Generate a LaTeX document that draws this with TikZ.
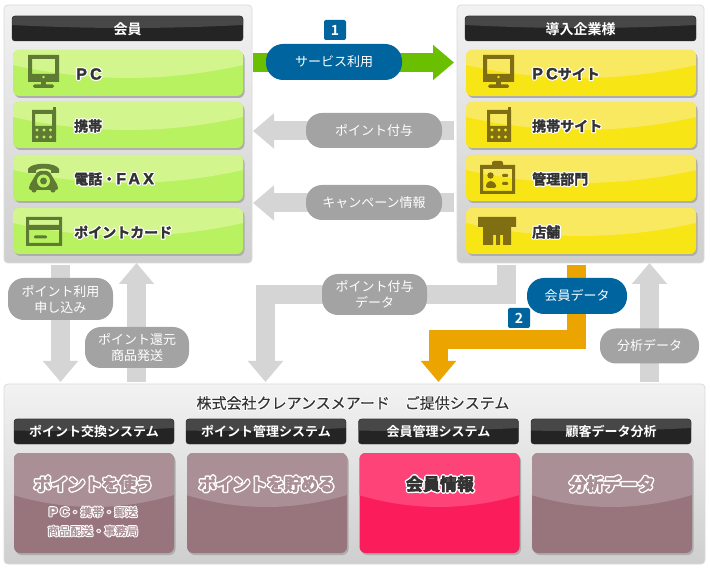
\documentclass[tikz,border=0pt]{standalone}
\usepackage{fontspec}
\usetikzlibrary{arrows.meta,shadows}
\setmainfont{Noto Sans CJK JP}[BoldFont={Noto Sans CJK JP Bold}]
\newfontfamily\wideface{Liberation Sans Bold}[Scale=1.15,LetterSpace=20]
\definecolor{greenbase}{HTML}{B9F261}
\definecolor{greengloss}{HTML}{D2F58E}
\definecolor{yellowbase}{HTML}{F8E516}
\definecolor{yellowgloss}{HTML}{F9E960}
\definecolor{mauvebase}{HTML}{98747D}
\definecolor{mauvegloss}{HTML}{AB8F96}
\definecolor{pinkbase}{HTML}{FB1C5C}
\definecolor{pinkgloss}{HTML}{FD4377}
\definecolor{greenicon}{HTML}{5F7A33}
\definecolor{yellowicon}{HTML}{7F6F12}
\definecolor{arrowgreen}{HTML}{6ABF00}
\definecolor{arroworange}{HTML}{ECA400}
\definecolor{arrowgrey}{HTML}{D5D5D5}
\definecolor{pillgrey}{HTML}{A3A3A3}
\definecolor{pillblue}{HTML}{00649F}
\definecolor{inkdark}{HTML}{333333}
\newcommand\halox[4]{\leavevmode\rlap{\special{pdf:code 2 Tr 1 j #1 w 1 1 1 RG}\textcolor{white}{#4}\special{pdf:code 0 Tr 0 j 1 w 0 0 0 RG}}\special{pdf:code 2 Tr 1 j #2 w #3 RG}#4\special{pdf:code 0 Tr 0 j 1 w 0 0 0 RG}}
\newcommand\rowhalo[1]{\halox{2.8}{0.3}{.2 .2 .2}{#1}}
\newcommand\cardhalo[1]{\halox{3.6}{0.7}{.67 .56 .59}{#1}}
\newcommand\infohalo[1]{\halox{3.6}{0.7}{.2 .2 .2}{#1}}
\newcommand\subhalo[1]{\halox{2.4}{0.2}{.67 .56 .59}{#1}}
\newcommand\titlehalo[1]{\halox{2}{0.05}{.2 .2 .2}{#1}}
\tikzset{
  glossy/.style n args={4}{path picture={
    \fill[#4,sharp corners] (path picture bounding box.north west) -- (path picture bounding box.north east)
      -- ++(0,#2) .. controls +(-#1/3,#3*1.33) and +(#1/3,#3*1.33) .. ++(-#1,0) -- cycle;}},
  panelbox/.style={draw=black!14,rounded corners=4pt,inner sep=0,top color=black!5,bottom color=black!19,line width=.8pt},
  headbox/.style={draw=black!85,line width=.4pt,rounded corners=3pt,inner sep=0,fill=black!86,minimum height=25pt,
    text=white,font=\bfseries\fontsize{#1}{#1}\selectfont,glossy={231}{9}{3}{black!72}},
  rowbase/.style={rounded corners=6pt,inner sep=0,minimum height=46pt,minimum width=230pt,
    drop shadow={shadow xshift=1.5pt,shadow yshift=-2pt,opacity=1,fill=black!32}},
  rowgreen/.style={rowbase,fill=greenbase,glossy={230}{15}{13}{greengloss}},
  rowyellow/.style={rowbase,fill=yellowbase,glossy={230}{15}{13}{yellowgloss}},
  cardbase/.style={rounded corners=6pt,inner sep=0,minimum height=100pt,minimum width=160pt,
    drop shadow={shadow xshift=1.5pt,shadow yshift=-2pt,opacity=1,fill=black!32}},
  cardmauve/.style={cardbase,fill=mauvebase,glossy={161}{42}{12}{mauvegloss}},
  cardpink/.style={cardbase,fill=pinkbase,glossy={161}{42}{12}{pinkgloss}},
  rowlabel/.style={anchor=west,inner sep=0,text=inkdark,font=\bfseries\fontsize{14}{14}\selectfont},
  cardlabel/.style={inner sep=0,text=mauvegloss,font=\bfseries\fontsize{17}{17}\selectfont},
  cardsub/.style={inner sep=0,text=mauvegloss,align=center,font=\fontsize{11.3}{19}\selectfont},
  pillgreyst/.style={fill=pillgrey,rounded corners=16pt,inner sep=0,text=white,align=center,font=\fontsize{13}{16}\selectfont},
  pillbluest/.style={fill=pillblue,rounded corners=17pt,inner sep=0,text=white,align=center,font=\fontsize{13}{16}\selectfont},
  oneline/.style={text height=11pt,text depth=1pt},
  badge/.style={fill=pillblue,rounded corners=2pt,inner sep=0,minimum width=22pt,minimum height=20pt,text=white,font=\bfseries\fontsize{14}{14}\selectfont},
  blockgrey/.style={draw=arrowgrey,line width=19pt,-{Triangle[length=21pt,width=34pt]}},
  blockgreen/.style={draw=arrowgreen,line width=19pt,-{Triangle[length=21pt,width=34pt]}},
  blockorange/.style={draw=arroworange,line width=19pt,-{Triangle[length=21pt,width=34pt]}},
  pics/monitoricon/.style={code={
    \fill[#1,even odd rule] (0,0) rectangle (31,27) (4,4) rectangle (27,19) (15.5,22) circle (1.7);
    \fill[#1] (13,27) rectangle (18,30);
    \fill[#1,rounded corners=1.5pt] (5,29.5) rectangle (26,33);}},
  pics/phoneicon/.style={code={
    \fill[#1,even odd rule] (0,3) rectangle (24,35) (3,7) rectangle (20,19)
      (5,23) circle (1.8) (12,23) circle (1.8) (18.5,23) circle (1.8)
      (5,30) circle (1.8) (12,30) circle (1.8) (18.5,30) circle (1.8);
    \fill[#1] (21,0) rectangle (24,4);}},
  pics/telicon/.style={code={
    \fill[#1] (0,10) -- (0,6) .. controls (3,-1) and (28,-1) .. (31,6) -- (31,10) -- (23,10) -- (23,7) .. controls (18,5) and (13,5) .. (8,7) -- (8,10) -- cycle;
    \fill[#1,rounded corners=2pt] (10,8) -- (21,8) -- (30,23) -- (30,27) -- (1,27) -- (1,23) -- cycle;
    \fill[#1] (6,27) circle (2.6) (25,27) circle (2.6);
    \fill[greenbase,even odd rule] (15.5,18) circle (6.5) (15.5,18) circle (3.6);}},
  pics/cardicon/.style={code={
    \fill[#1,even odd rule] (0,0) rectangle (36,29) (3,3) rectangle (33,8) (3,13) rectangle (33,26);
    \fill[#1,rounded corners=1.2pt] (8,18.5) rectangle (21,21.5);}},
  pics/badgeicon/.style={code={
    \fill[#1,even odd rule] (0,4) rectangle (35,33) (3,8) rectangle (32,30);
    \fill[#1,rounded corners=2pt] (12,0) rectangle (23,8);
    \fill[#1] (10.5,14.5) circle (3.2);
    \fill[#1,rounded corners=1.5pt] (6,27) -- (6,23) -- (9,20) -- (12,20) -- (16,23) -- (16,27) -- cycle;
    \fill[#1,rounded corners=1pt] (22,13) rectangle (28,16) (22,21) rectangle (28,24);}},
  pics/shopicon/.style={code={
    \fill[#1] (0,0) -- (38,0) -- (38,10) -- (33,10) -- (33,28) -- (25,28) -- (25,18) -- (22,18) -- (22,28) -- (18,28) -- (18,18) -- (15,18) -- (15,28) -- (5,28) -- (5,10) -- (0,10) -- cycle;}}
}
\begin{document}
\begin{tikzpicture}[x=1pt,y=-1pt]
\useasboundingbox (0,0) rectangle (710,569);
\fill[white] (0,0) rectangle (710,569);
% panels
\node[panelbox,minimum width=248pt,minimum height=258pt] (member) at (128,134) {};
\node[panelbox,minimum width=247pt,minimum height=258pt] (client) at (580.5,134) {};
\node[panelbox,minimum width=701pt,minimum height=180pt] (system) at (354.5,474) {};
% headers
\node[headbox=14,minimum width=231pt,text height=12.6pt,text depth=1pt] (memberhead) at (127.5,28.5) {会員};
\node[headbox=14,minimum width=231pt,text height=12.6pt,text depth=1pt] (clienthead) at (580.5,28.5) {導入企業様};
% left rows
\node[rowgreen] (rowpc) at (128,73) {};
\node[rowgreen] (rowtel) at (128,125) {};
\node[rowgreen] (rowfax) at (128,178) {};
\node[rowgreen] (rowcard) at (128,231) {};
\node[rowlabel] (lblpc) at (76,74) {\rowhalo{\wideface PC}};
\node[rowlabel] (lbltel) at (74,126) {\rowhalo{携帯}};
\node[rowlabel] (lblfax) at (74,179) {\rowhalo{電話・{\wideface FAX}}};
\node[rowlabel] (lblcard) at (74,232) {\rowhalo{ポイントカード}};
\pic at (28,55) {monitoricon=greenicon};
\pic at (32,107) {phoneicon=greenicon};
\pic at (28,163) {telicon=greenicon};
\pic at (26,217) {cardicon=greenicon};
% right rows
\node[rowyellow] (rowsite) at (581,73) {};
\node[rowyellow] (rowmob) at (581,125) {};
\node[rowyellow] (rowadmin) at (581,178) {};
\node[rowyellow] (rowshop) at (581,231) {};
\node[rowlabel] (lblsite) at (532,74) {\rowhalo{{\wideface PC}サイト}};
\node[rowlabel] (lblmob) at (532,126) {\rowhalo{携帯サイト}};
\node[rowlabel] (lbladmin) at (532,179) {\rowhalo{管理部門}};
\node[rowlabel] (lblshop) at (532,232) {\rowhalo{店舗}};
\pic at (483,55) {monitoricon=yellowicon};
\pic at (487,107) {phoneicon=yellowicon};
\pic at (480,161) {badgeicon=yellowicon};
\pic at (478,217) {shopicon=yellowicon};
% bottom panel
\node[inner sep=0,text=inkdark,font=\fontsize{15}{15}\selectfont] (systitle) at (353,403) {\titlehalo{株式会社クレアンスメアード　ご提供システム}};
\node[headbox=13,minimum width=160pt] (headexch) at (94,431.5) {ポイント交換システム};
\node[headbox=13,minimum width=160pt] (headmgmt) at (266,431.5) {ポイント管理システム};
\node[headbox=13,minimum width=160pt] (headmem) at (438.5,431.5) {会員管理システム};
\node[headbox=13,minimum width=160pt] (headcust) at (611,431.5) {顧客データ分析};
\node[cardmauve] (cardexch) at (94,503) {};
\node[cardmauve] (cardmgmt) at (267,503) {};
\node[cardpink] (cardmem) at (439.5,503) {};
\node[cardmauve] (cardcust) at (612,503) {};
\node[cardlabel] (txtuse) at (93.5,484) {\cardhalo{ポイントを使う}};
\node[cardsub] (txtsub) at (93,521.5) {\subhalo{{\wideface PC}・携帯・郵送}\\\subhalo{商品配送・事務局}};
\node[cardlabel] (txtsave) at (267,484) {\cardhalo{ポイントを貯める}};
\node[cardlabel,text=inkdark] (txtinfo) at (440,484) {\infohalo{会員情報}};
\node[cardlabel] (txtdata) at (612,484) {\cardhalo{分析データ}};
% connector ends
\coordinate (svcA) at (253,62.5); \coordinate (svcB) at (454,62.5);
\coordinate (ptA) at (454,131); \coordinate (ptB) at (253,131);
\coordinate (cpA) at (454,203); \coordinate (cpB) at (253,203);
\coordinate (useA) at (60.5,265); \coordinate (useB) at (60.5,382);
\coordinate (retA) at (136.5,382); \coordinate (retB) at (136.5,263);
\coordinate (pdA) at (506.5,265); \coordinate (pdM) at (265.5,294.5); \coordinate (pdB) at (265.5,382);
\coordinate (mdA) at (576.5,265); \coordinate (mdM) at (438.5,339.5); \coordinate (mdB) at (438.5,382);
\coordinate (anA) at (649.5,382); \coordinate (anB) at (649.5,263);
% connectors
\draw[blockgreen] (svcA) -- (svcB);
\draw[blockgrey] (ptA) -- (ptB);
\draw[blockgrey] (cpA) -- (cpB);
\draw[blockgrey] (useA) -- (useB);
\draw[blockgrey] (retA) -- (retB);
\draw[blockgrey] (pdA) |- (pdM) -- (pdB);
\draw[blockorange] (mdA) |- (mdM) -- (mdB);
\draw[blockgrey] (anA) -- (anB);
% pills
\node[pillbluest,oneline,minimum width=136pt,minimum height=36pt] (pillsvc) at (334,62) {サービス利用};
\node[pillgreyst,oneline,minimum width=136pt,minimum height=35pt] (pillpt) at (374,130.5) {ポイント付与};
\node[pillgreyst,oneline,minimum width=136pt,minimum height=35pt] (pillcp) at (374,202.5) {キャンペーン情報};
\node[pillgreyst,minimum width=105pt,minimum height=42pt] (pilluse) at (60.5,299) {ポイント利用\\申し込み};
\node[pillgreyst,minimum width=104pt,minimum height=41pt] (pillret) at (137,347.5) {ポイント還元\\商品発送};
\node[pillgreyst,minimum width=105pt,minimum height=41pt] (pillpd) at (374.5,294.5) {ポイント付与\\データ};
\node[pillbluest,oneline,minimum width=100pt,minimum height=36pt] (pillmd) at (577,296) {会員データ};
\node[pillgreyst,oneline,minimum width=99pt,minimum height=35pt] (pillan) at (649.5,346) {分析データ};
\node[badge] (badgeone) at (335,30) {1};
\node[badge] (badgetwo) at (519,318) {2};
\end{tikzpicture}
\end{document}
